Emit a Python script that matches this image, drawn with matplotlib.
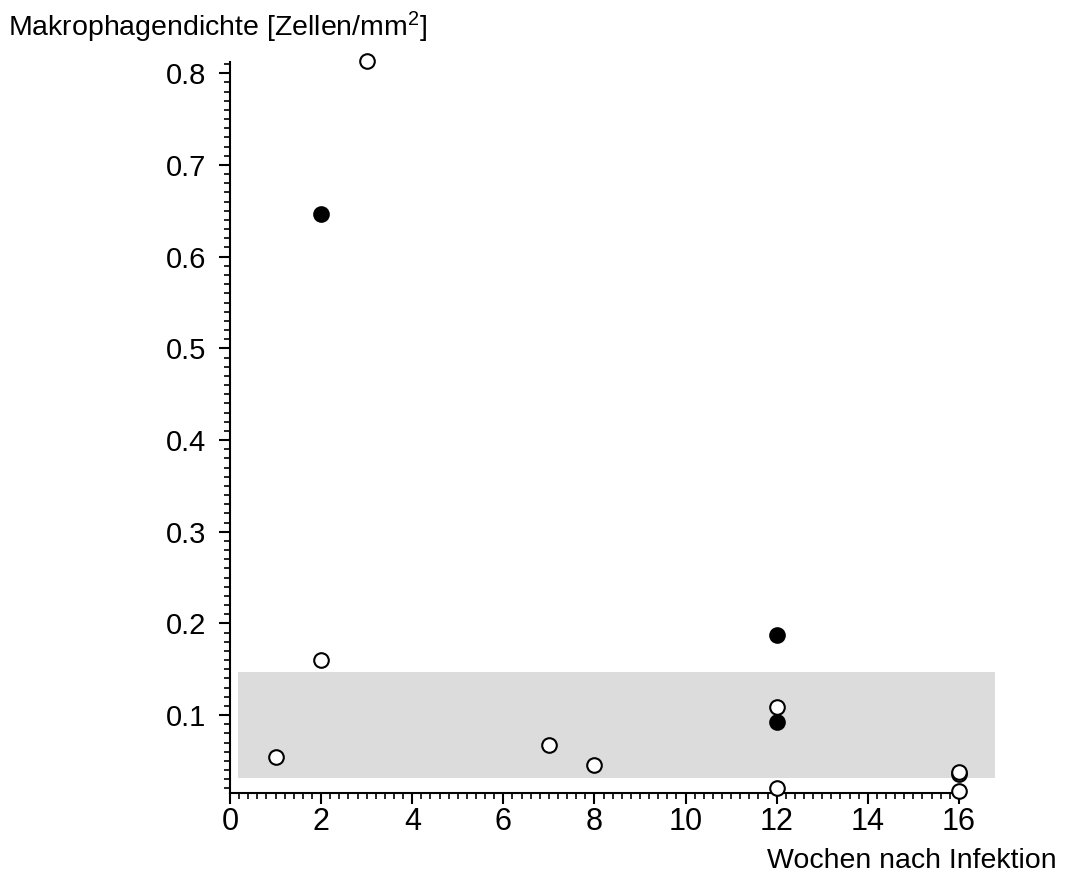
import matplotlib
matplotlib.use("Agg")
import matplotlib.pyplot as plt
from matplotlib.ticker import MultipleLocator, FormatStrFormatter
from matplotlib.patches import Rectangle

plt.rcParams['font.family'] = ['Liberation Sans', 'DejaVu Sans']

# Makrophagendichte je Tier, offene / gefuellte Kreise
weeks_open = [1, 2, 3, 7, 8, 12, 12, 16, 16, 16]
dens_open = [0.054, 0.160, 0.813, 0.067, 0.0455, 0.109, 0.0205, 0.036, 0.038, 0.017]
weeks_filled = [2, 12, 12]
dens_filled = [0.647, 0.187, 0.092]

# Normbereich (grau hinterlegt)
ref_x = (0.18, 16.8)
ref_y = (0.031, 0.147)

fig = plt.figure(figsize=(10.69, 8.77), dpi=100)
ax = fig.add_axes([0.2152, 0.0961, 0.6818, 0.8336])

ax.add_patch(Rectangle((ref_x[0], ref_y[0]), ref_x[1] - ref_x[0], ref_y[1] - ref_y[0],
                       facecolor='#dcdcdc', edgecolor='none', zorder=0, clip_on=False))

ax.plot(weeks_open, dens_open, 'o', ms=10.5, mfc='white', mec='black', mew=1.5,
        clip_on=False, zorder=3)
ax.plot(weeks_filled, dens_filled, 'o', ms=10.5, mfc='black', mec='black', mew=1.5,
        clip_on=False, zorder=3)

ax.set_xlim(0, 16)
ax.set_ylim(0.0153, 0.8127)
ax.xaxis.set_major_locator(MultipleLocator(2))
ax.xaxis.set_minor_locator(MultipleLocator(0.2))
ax.yaxis.set_major_locator(MultipleLocator(0.1))
ax.yaxis.set_minor_locator(MultipleLocator(0.01))
ax.yaxis.set_major_formatter(FormatStrFormatter('%g'))

for s in ('top', 'right'):
    ax.spines[s].set_visible(False)
for s in ('left', 'bottom'):
    ax.spines[s].set_linewidth(1.5)

ax.tick_params(which='major', direction='out', length=8, width=1.5, labelsize=21)
ax.tick_params(which='minor', direction='out', length=4, width=1.2)
ax.tick_params(axis='y', which='major', pad=9)
ax.tick_params(axis='x', which='major', pad=2, labelsize=22)

fig.text(8 / 1069, 1 - 27 / 877, r'Makrophagendichte [Zellen/mm$\mathregular{^2}$]',
         fontsize=20.5, ha='left', va='center')
fig.text(1057 / 1069, 1 - 861 / 877, 'Wochen nach Infektion',
         fontsize=20.5, ha='right', va='center')

fig.savefig('out.png', dpi=100)
